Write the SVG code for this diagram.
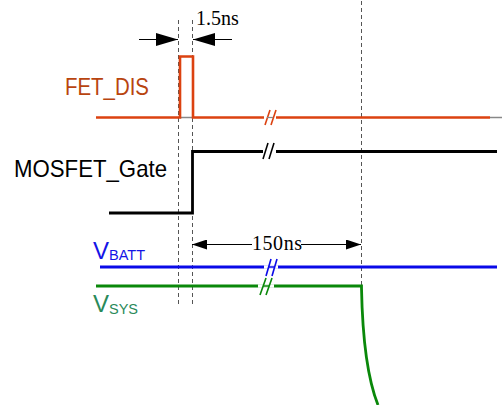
<svg xmlns="http://www.w3.org/2000/svg" width="502" height="405" viewBox="0 0 502 405">
<style>
.dash{stroke:#555;stroke-width:1;stroke-dasharray:4,3;fill:none}
.dim{stroke:#000;stroke-width:1;fill:none}
.lbl{font-family:"Liberation Sans",Arial,sans-serif;font-size:24px}
.sub{font-size:14.5px}
.ser{font-family:"Liberation Serif","Times New Roman",serif;font-size:20px;fill:#000}
.brk{stroke-width:1.6;fill:none}
</style>
<defs>
<marker id="ahL" viewBox="0 0 22 13" refX="22" refY="6.5" markerWidth="22" markerHeight="13" markerUnits="userSpaceOnUse" orient="auto"><path d="M0,0 L22,6.5 L0,13 Z" fill="#000"/></marker>
<marker id="ahS" viewBox="0 0 15 10" refX="15" refY="5" markerWidth="15" markerHeight="10" markerUnits="userSpaceOnUse" orient="auto"><path d="M0,0 L15,5 L0,10 Z" fill="#000"/></marker>
</defs>
<g id="connectors">
<line class="dash" x1="178.5" y1="20" x2="178.5" y2="306"/>
<line class="dash" x1="192.5" y1="20" x2="192.5" y2="306"/>
<line class="dash" x1="361.5" y1="1" x2="361.5" y2="290"/>
<line class="dim" x1="139" y1="39.5" x2="178" y2="39.5" marker-end="url(#ahL)"/>
<line class="dim" x1="232" y1="39.5" x2="193" y2="39.5" marker-end="url(#ahL)"/>
<line class="dim" x1="252" y1="244.5" x2="192" y2="244.5" marker-end="url(#ahS)"/>
<line class="dim" x1="301" y1="244.5" x2="361" y2="244.5" marker-end="url(#ahS)" stroke="#555"/>
</g>
<g id="label-1p5ns"><text class="ser" x="196" y="25">1.5ns</text></g>
<g id="label-150ns"><text class="ser" x="252" y="250" textLength="50">150ns</text></g>
<g id="fet-dis">
<text class="lbl" x="65" y="95" fill="#b8440f" textLength="84" lengthAdjust="spacingAndGlyphs">FET_DIS</text>
<line x1="180" y1="117.5" x2="193" y2="117.5" stroke="#888" stroke-width="1.5"/>
<polyline points="96,117.5 180,117.5 180,56.5 193,56.5 193,117.5 490,117.5" fill="none" stroke="#dc4210" stroke-width="2.6"/>
<line x1="490" y1="117.5" x2="502" y2="117.5" stroke="#888" stroke-width="1.5"/>
<line x1="264" y1="117.5" x2="276" y2="117.5" stroke="#fff" stroke-width="3"/>
<line class="brk" x1="265" y1="125" x2="270" y2="110" stroke="#dc4210"/>
<line class="brk" x1="271" y1="125" x2="276" y2="110" stroke="#dc4210"/>
<line x1="267" y1="117.5" x2="273" y2="117.5" stroke="#888" stroke-width="1.2"/>
</g>
<g id="mosfet-gate">
<text class="lbl" x="14" y="177" fill="#000" textLength="153" lengthAdjust="spacingAndGlyphs">MOSFET_Gate</text>
<polyline points="109,213 192.5,213 192.5,151.5 497,151.5" fill="none" stroke="#000" stroke-width="2.8"/>
<line x1="263" y1="151.5" x2="276" y2="151.5" stroke="#fff" stroke-width="3.5"/>
<line class="brk" x1="263" y1="159" x2="268" y2="143" stroke="#000"/>
<line class="brk" x1="269" y1="159" x2="274" y2="143" stroke="#000"/>
</g>
<g id="vbatt">
<text class="lbl" x="93" y="259" fill="#1414e6" font-size="23">V<tspan class="sub" dy="1">BATT</tspan></text>
<line x1="100" y1="267" x2="497" y2="267" stroke="#0a0ae8" stroke-width="2.8"/>
<line x1="264" y1="267" x2="278" y2="267" stroke="#fff" stroke-width="3.5"/>
<line class="brk" x1="266" y1="276" x2="271" y2="259" stroke="#0a0ae8"/>
<line class="brk" x1="272" y1="276" x2="277" y2="259" stroke="#0a0ae8"/>
<line x1="268" y1="267" x2="275" y2="267" stroke="#0a0ae8" stroke-width="1.5"/>
</g>
<g id="vsys">
<text class="lbl" x="93" y="312" fill="#2a8a5a" font-size="23">V<tspan class="sub" dy="2">SYS</tspan></text>
<path d="M96,286 H361.5 V288 C362.5,340 368,380 378,405" fill="none" stroke="#0a880a" stroke-width="2.8"/>
<line x1="258" y1="286" x2="274" y2="286" stroke="#fff" stroke-width="3.5"/>
<line class="brk" x1="260" y1="295" x2="266" y2="278" stroke="#0a880a"/>
<line class="brk" x1="266" y1="295" x2="272" y2="278" stroke="#0a880a"/>
<line x1="263" y1="286" x2="269" y2="286" stroke="#0a880a" stroke-width="1.5"/>
</g>
</svg>
